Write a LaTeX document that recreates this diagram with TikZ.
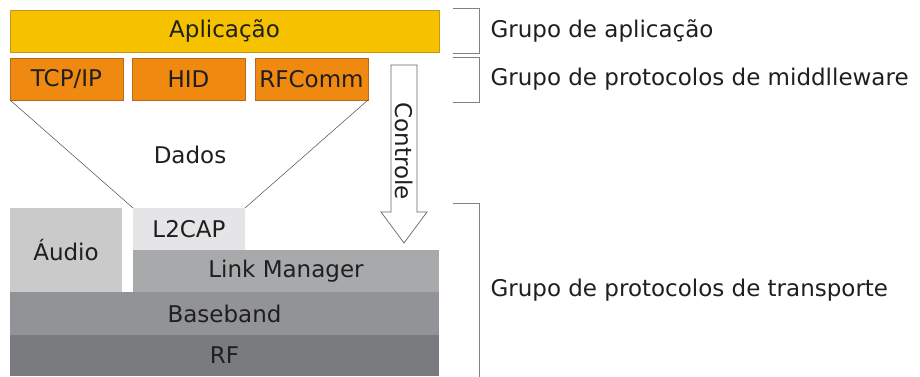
\documentclass[tikz,border=0pt]{standalone}
\usepackage{fontspec}
\setmainfont{DejaVu Sans}
\usetikzlibrary{positioning}

\definecolor{appfill}{RGB}{246,194,0}
\definecolor{appline}{RGB}{196,152,20}
\definecolor{midfill}{RGB}{239,137,16}
\definecolor{midline}{RGB}{186,104,30}
\definecolor{audiofill}{RGB}{202,202,203}
\definecolor{lcapfill}{RGB}{229,229,231}
\definecolor{lmfill}{RGB}{168,169,171}
\definecolor{bbfill}{RGB}{146,147,150}
\definecolor{rffill}{RGB}{121,123,126}
\definecolor{rulegray}{RGB}{130,130,130}

\begin{document}
\begin{tikzpicture}[x=1pt,y=-1pt,
  every node/.style={font=\fontsize{23}{27}\selectfont, text=black!88},
  layer/.style={inner sep=0pt, outer sep=0pt, anchor=north west},
  brk/.style={draw=rulegray, line width=0.8pt}]
\useasboundingbox (0,0) rectangle (920,377);

% grupo de aplicacao
\node[layer, fill=appfill, draw=appline, minimum width=429pt, minimum height=42pt] (app) at (10,10) {Aplicação};

% protocolos de middleware
\foreach \x/\n/\t in {10/tcp/{TCP/IP}, 132/hid/HID, 255/rfc/RFComm}
{
    \node[layer, fill=midfill, draw=midline, minimum width=113pt, minimum height=42pt] (\n) at (\x,58) {\t};
};

% protocolos de transporte
\node[layer, fill=audiofill, minimum width=112pt, minimum height=84pt] (audio) at (10,208) {Áudio};
\node[layer, fill=lcapfill, minimum width=112pt, minimum height=42pt] (lcap) at (133,208) {L2CAP};
\node[layer, fill=lmfill, minimum width=306pt, minimum height=42pt] (lm) at (133,250) {Link Manager};
\node[layer, fill=bbfill, minimum width=429pt, minimum height=43pt] (bb) at (10,292) {Baseband};
\node[layer, fill=rffill, minimum width=429pt, minimum height=41pt] (rf) at (10,335) {RF};

% dados
\draw[draw=black!70, line width=0.5pt]
(tcp.south west) -- (lcap.north west)
(rfc.south east) -- (lcap.north east);
\node (dados) at (190,155) {Dados};

% controle
\draw[draw=black!60, fill=white, line width=0.7pt]
(391,65) -- (417,65) -- (417,212) -- (427,212) -- (404,243) -- (381,212) -- (391,212) -- cycle;
\node[rotate=-90] (ctrl) at (404,151) {Controle};

% grupos
\foreach \t/\b/\n/\txt in
{ 8/53/ga/Grupo de aplicação,
    57/102/gm/Grupo de protocolos de middlleware,
    203/377/gt/Grupo de protocolos de transporte
}
{
    \draw[brk] (453,\t) -- (479,\t) -- (479,\b) -- (453,\b);
    \node[anchor=west] (\n) at (487,{(\t+\b)/2}) {\txt};
};
\end{tikzpicture}
\end{document}
